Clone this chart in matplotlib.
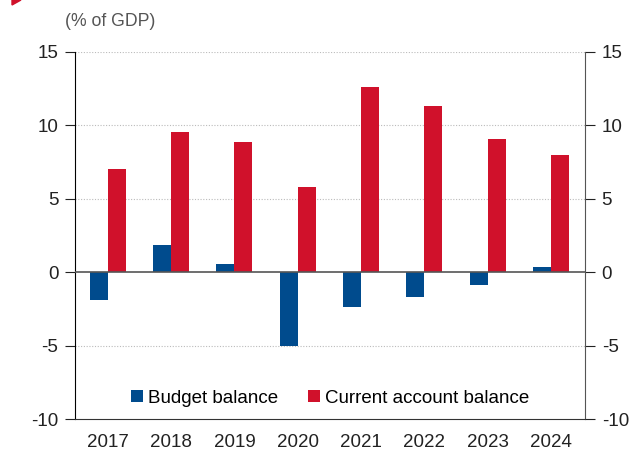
import numpy as np
import matplotlib.pyplot as plt
from matplotlib.patches import Polygon

plt.rcParams['font.family'] = ['Liberation Sans', 'DejaVu Sans']

years = ['2017', '2018', '2019', '2020', '2021', '2022', '2023', '2024']
budget_balance = [-1.9, 1.85, 0.55, -5.0, -2.4, -1.7, -0.9, 0.35]
current_account = [7.0, 9.55, 8.9, 5.8, 12.6, 11.3, 9.05, 7.95]

blue = '#004b8d'
red = '#d0112b'

fig = plt.figure(figsize=(6.33, 4.53), dpi=100)
ax = fig.add_axes([75 / 633, 34 / 453, 510 / 633, 367 / 453])

x = np.arange(len(years))
w = 0.285
ax.bar(x - w / 2, budget_balance, w, color=blue, label='Budget balance', zorder=3)
ax.bar(x + w / 2, current_account, w, color=red, label='Current account balance', zorder=3)

ax.set_xlim(-0.52, 7.54)
ax.set_ylim(-10, 15)
ax.set_yticks([-10, -5, 0, 5, 10, 15])
ax.set_yticklabels(['-10', '-5', '0', '5', '10', '15'])
ax.set_xticks(x)
ax.set_xticklabels(years)

# dotted gridlines
for v in [-5, 5, 10, 15]:
    ax.axhline(v, color='#bbbbbb', lw=0.8, ls=(0, (1, 1.5)), zorder=1)
ax.axhline(0, color='#555555', lw=1.2, zorder=4)

ax.spines['top'].set_visible(False)
ax.spines['left'].set_color('black')
ax.spines['bottom'].set_color('#333333')
ax.spines['right'].set_color('#555555')

ax.tick_params(axis='x', length=0, pad=11, labelsize=13.5, colors='#222222')
ax.tick_params(axis='y', direction='out', length=7, labelsize=13.5, colors='#222222',
               right=True, labelright=True, pad=5)

ax.legend(loc='lower center', bbox_to_anchor=(0.5, -0.012), ncol=2, frameon=False,
          fontsize=13.5, handlelength=0.65, handleheight=0.65, handletextpad=0.25,
          columnspacing=1.6)

fig.text(65 / 633, 1 - 21 / 453, '(% of GDP)', fontsize=12.7, color='#555555',
         ha='left', va='center')

tri = Polygon([[12 / 633, 1], [21 / 633, 1], [12 / 633, 1 - 5 / 453]], closed=True,
              transform=fig.transFigure, color=red)
fig.patches.append(tri)

fig.savefig('out.png', dpi=100)
